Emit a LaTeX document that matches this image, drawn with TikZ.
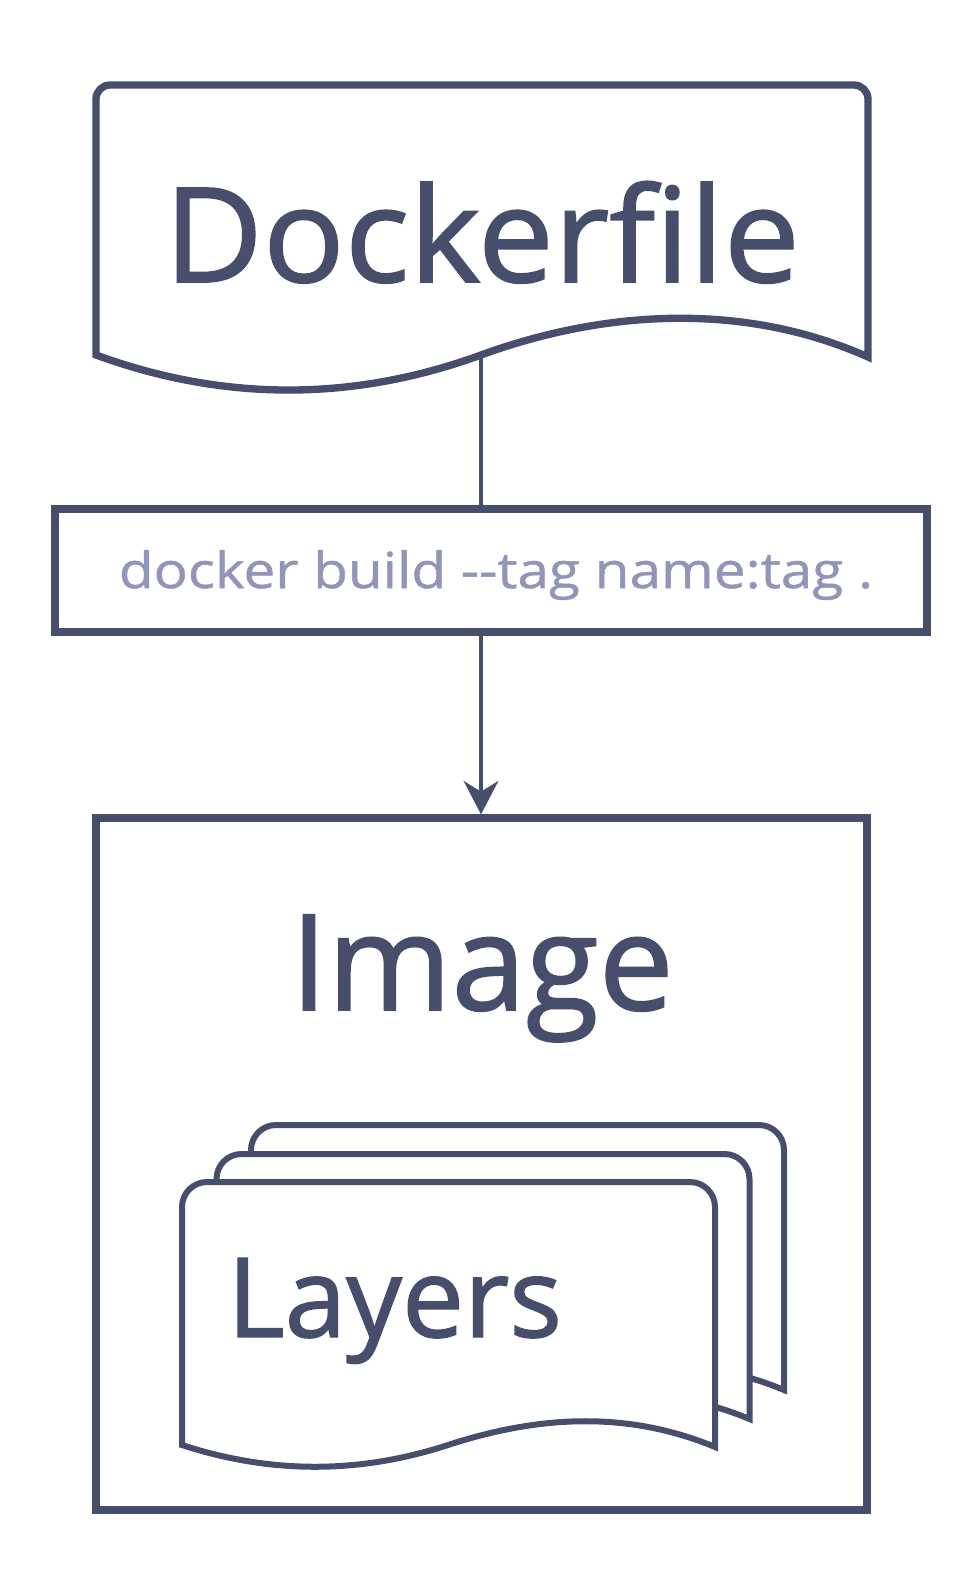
\documentclass[tikz,border=0pt]{standalone}
\usepackage{fontspec}
\setmainfont{Open Sans}[FakeBold=1.3]
\newfontfamily\cmdfont{Open Sans}[Ligatures=TeXOff,FakeStretch=1.14,FakeBold=1]
\newfontfamily\dffont{Open Sans}[FakeStretch=1.03,FakeBold=1.3]
\usetikzlibrary{arrows.meta}
\definecolor{dk}{RGB}{70,78,108}
\definecolor{lt}{RGB}{145,150,185}
\tikzset{
  border/.style={draw=dk,line width=5.5pt},
  sheet/.style={draw=dk,fill=white,line width=4.5pt},
  conn/.style={draw=dk,line width=3pt},
  bigtxt/.style={text=dk,inner sep=0pt},
  layersheet/.pic={
    \path[sheet] (0,263) -- (0,25) .. controls (0,11.2) and (11.2,0) .. (25,0)
      -- (508,0) .. controls (521.8,0) and (533,11.2) .. (533,25)
      -- (533,265) .. controls (444,228) and (355,234) .. (266,263)
      .. controls (177,292) and (89,292) .. (0,263) -- cycle;
  }
}
\begin{document}
\begin{tikzpicture}[x=0.75pt,y=-0.75pt]
\path[fill=white] (0,0) rectangle (975,1578);
\useasboundingbox (0,0) rectangle (975,1578);
% Dockerfile document
\path[border,fill=white] (96,355) -- (96,99) .. controls (96,91.3) and (102.3,85) .. (110,85)
  -- (854,85) .. controls (861.7,85) and (868,91.3) .. (868,99)
  -- (868,357) .. controls (740,300) and (600,311.6) .. (481,355)
  .. controls (353,401.7) and (224,401.7) .. (96,355) -- cycle;
\node[bigtxt,anchor=base,font=\dffont\fontsize{98.7pt}{110pt}\selectfont] (dftxt) at (482,282) {Dockerfile};
\coordinate (dfb) at (481,355);
% command box
\node[border,minimum width=654pt,minimum height=92.25pt,inner sep=0pt] (cmd) at (491,570.5) {};
\node[text=lt,anchor=base,inner sep=0pt,font=\cmdfont\fontsize{37.3pt}{42pt}\selectfont] (cmdtxt) at (496,588) {docker build --tag name:tag .};
% image box
\node[border,minimum width=578.25pt,minimum height=519pt,inner sep=0pt] (img) at (481.5,1164) {};
\node[bigtxt,anchor=base,font=\fontsize{100pt}{110pt}\selectfont] (imgtxt) at (482,1010) {Image};
% layers
\pic at (251,1125) {layersheet};
\pic at (216.5,1154) {layersheet};
\pic at (182,1182) {layersheet};
\node[bigtxt,anchor=base west,font=\fontsize{83pt}{95pt}\selectfont] (laytxt) at (227,1337) {Layers};
% connectors
\draw[conn] (dfb) -- (dfb |- cmd.north);
\draw[conn,-{Stealth[length=25pt,width=26pt,inset=8pt]}] (dfb |- cmd.south) -- (dfb |- img.north);
\end{tikzpicture}
\end{document}
